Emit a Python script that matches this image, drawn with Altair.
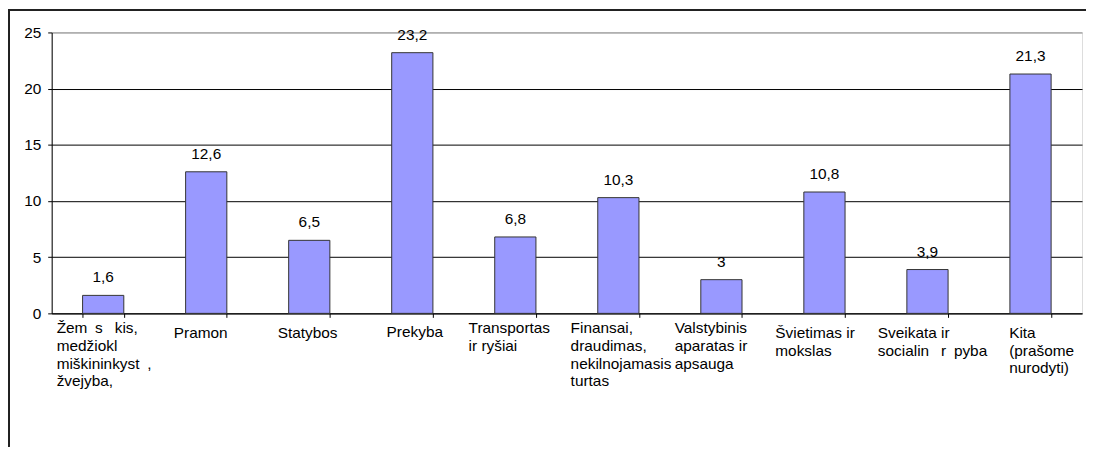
import altair as alt
import pandas as pd

EN = "\u2002"   # blank where the reference shows a missing glyph
NB = "\u00a0"

categories = [
    f"Žem{EN}s{NB}{EN}kis,\nmedžiokl\nmiškininkyst{EN},\nžvejyba,",
    "Pramon",
    "Statybos",
    "Prekyba",
    f"Transportas\n{NB}ir ryšiai",
    f"Finansai,\n{NB}draudimas,\nnekilnojamasis\nturtas",
    "Valstybinis\naparatas ir\napsauga",
    "Švietimas ir\nmokslas",
    f"Sveikata ir\nsocialin{EN}{NB}r{EN}pyba",
    "Kita\n(prašome\nnurodyti)",
]
values = [1.6, 12.6, 6.5, 23.2, 6.8, 10.3, 3, 10.8, 3.9, 21.3]

# label layout tweaks (style only)
label_dx = [-47.4, -33.2, -32.3, -26.4, -47.6, -48.6, -47.6, -50.0, -50.5, -22.0]
label_pad = [15.7, 20.4, 20.4, 19.8, 15.7, 15.7, 15.7, 20.4, 20.4, 20.4]

df = pd.DataFrame({"cat": categories, "v": values})

FONT = "Liberation Sans"
FS = 15.5
W, H = 1038, 283
PAD = {"left": 44, "top": 23, "right": 4, "bottom": 134}

idx = "indexof(domain('x'), datum.value)"
dx_expr = "[" + ",".join(str(v) for v in label_dx) + "][" + idx + "]"
pad_expr = "[" + ",".join(str(v) for v in label_pad) + "][" + idx + "]"

x_enc = alt.X(
    "cat:N",
    sort=categories,
    scale=alt.Scale(paddingInner=0.6, paddingOuter=0.3),
    axis=alt.Axis(
        title=None,
        labelAngle=0,
        tickBand="extent",
        tickSize=4,
        tickColor="black",
        domainColor="black",
        labelAlign="left",
        labelBaseline="alphabetic",
        labelExpr=f"{idx} < 0 ? '' : split(datum.value, '\\n')",
        labelOffset={"expr": f"{idx} < 0 ? 0 : {dx_expr}"},
        labelPadding={"expr": f"{idx} < 0 ? 0 : {pad_expr}"},
        labelLineHeight=17.7,
        labelFont=FONT,
        labelFontSize=FS,
        labelColor="black",
        labelLimit=0,
        labelOverlap=False,
        labelBound=False,
        labelFlush=False,
        grid=False,
    ),
)

y_enc = alt.Y(
    "v:Q",
    scale=alt.Scale(domain=[0, 25], nice=False),
    axis=alt.Axis(
        title=None,
        values=[0, 5, 10, 15, 20, 25],
        tickSize=4,
        tickColor="black",
        domainColor="black",
        labelFont=FONT,
        labelFontSize=FS,
        labelColor="black",
        labelPadding=7,
        grid=True,
        gridColor={"condition": {"test": "datum.value >= 25", "value": "#808080"}, "value": "black"},
        gridWidth=1,
    ),
)

bars = alt.Chart(df).mark_bar(
    fill="#9999FF", stroke="#333333", strokeWidth=1
).encode(x=x_enc, y=y_enc)

labels = alt.Chart(df).transform_calculate(
    lab="replace(toString(datum.v), '.', ',')"
).mark_text(
    font=FONT, fontSize=FS, color="black", baseline="alphabetic", align="center", dy=-13
).encode(x=alt.X("cat:N", sort=categories), y="v:Q", text="lab:N")

frame_top = alt.Chart(df).mark_rule(color="#222222", strokeWidth=1.5).encode(
    x=alt.value(-PAD["left"]), x2=alt.value(W + PAD["right"]), y=alt.value(-PAD["top"] + 0.75)
)
frame_left = alt.Chart(df).mark_rule(color="#222222", strokeWidth=1.5).encode(
    x=alt.value(-PAD["left"] + 0.75), y=alt.value(-PAD["top"]), y2=alt.value(H + PAD["bottom"])
)

chart = alt.layer(bars, labels, frame_top, frame_left).properties(
    width=W,
    height=H,
    autosize=alt.AutoSizeParams(type="none"),
    padding=PAD,
).configure_view(stroke="#808080", strokeWidth=1).configure(background="white")

chart.save("out.html", embed_options={"renderer": "svg", "actions": False})
